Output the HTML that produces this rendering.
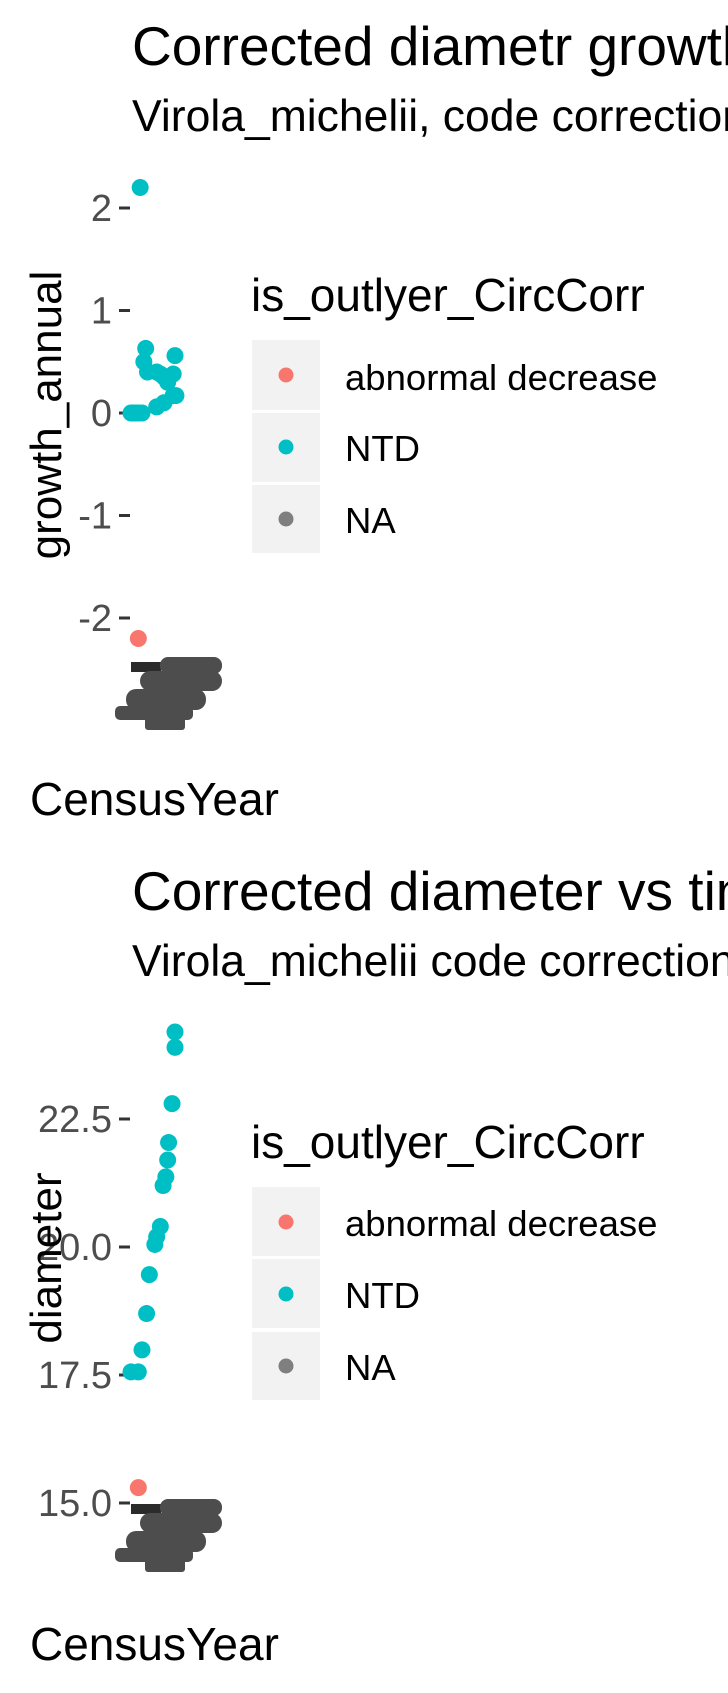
<!DOCTYPE html>
<html><head><meta charset="utf-8">
<style>
html,body{margin:0;padding:0;background:#fff;}
svg{display:block;font-family:"Liberation Sans",Arial,sans-serif;}
</style></head>
<body>
<svg width="728" height="1693" viewBox="0 0 728 1693" xmlns="http://www.w3.org/2000/svg">
<g id="p1">
  <text x="132" y="65" font-size="55" fill="#000">Corrected diametr growth vs time</text>
  <text x="132" y="131" font-size="44.5" fill="#000">Virola_michelii, code correction</text>
  <g id="yaxis1"></g>
  <text transform="translate(61,415) rotate(-90)" text-anchor="middle" font-size="44" fill="#000">growth_annual</text>
  <g id="pts1"></g>
  <g fill="#4d4d4d">
    <rect x="131" y="662" width="30" height="10" fill="#2b2b2b"/>
    <rect x="160" y="657" width="62" height="17" rx="8"/>
    <rect x="140" y="671" width="82" height="20" rx="10"/>
    <rect x="126" y="689" width="80" height="21" rx="10"/>
    <rect x="115" y="706" width="78" height="14" rx="5"/>
    <rect x="145" y="715" width="40" height="15" rx="3"/>
  </g>
  <text x="30" y="815" font-size="46" fill="#000">CensusYear</text>
  <g>
    <text x="251" y="311" font-size="46" fill="#000">is_outlyer_CircCorr</text>
    <rect x="252" y="340" width="68" height="70" fill="#f2f2f2"/>
    <circle cx="286" cy="375" r="7.5" fill="#f8766d"/>
    <text x="345" y="390" font-size="36.5" fill="#000">abnormal decrease</text>
    <rect x="252" y="413" width="68" height="69" fill="#f2f2f2"/>
    <circle cx="286" cy="447" r="7.5" fill="#00bfc4"/>
    <text x="345" y="461" font-size="36.5" fill="#000">NTD</text>
    <rect x="252" y="485" width="68" height="68" fill="#f2f2f2"/>
    <circle cx="286" cy="519" r="7.5" fill="#7f7f7f"/>
    <text x="345" y="533" font-size="36.5" fill="#000">NA</text>
  </g>
</g>
<g id="p2">
  <text x="132" y="910" font-size="55" fill="#000">Corrected diameter vs time</text>
  <text x="132" y="976" font-size="44.5" fill="#000">Virola_michelii code correction</text>
  <g id="yaxis2"></g>
  <text transform="translate(61,1258) rotate(-90)" text-anchor="middle" font-size="44" fill="#000">diameter</text>
  <g id="pts2"></g>
  <g fill="#4d4d4d" transform="translate(0,842)">
    <rect x="131" y="662" width="30" height="10" fill="#2b2b2b"/>
    <rect x="160" y="657" width="62" height="17" rx="8"/>
    <rect x="140" y="671" width="82" height="20" rx="10"/>
    <rect x="126" y="689" width="80" height="21" rx="10"/>
    <rect x="115" y="706" width="78" height="14" rx="5"/>
    <rect x="145" y="715" width="40" height="15" rx="3"/>
  </g>
  <text x="30" y="1660" font-size="46" fill="#000">CensusYear</text>
  <g>
    <text x="251" y="1158" font-size="46" fill="#000">is_outlyer_CircCorr</text>
    <rect x="252" y="1187" width="68" height="69" fill="#f2f2f2"/>
    <circle cx="286" cy="1222" r="7.5" fill="#f8766d"/>
    <text x="345" y="1236" font-size="36.5" fill="#000">abnormal decrease</text>
    <rect x="252" y="1259" width="68" height="69" fill="#f2f2f2"/>
    <circle cx="286" cy="1294" r="7.5" fill="#00bfc4"/>
    <text x="345" y="1308" font-size="36.5" fill="#000">NTD</text>
    <rect x="252" y="1332" width="68" height="68" fill="#f2f2f2"/>
    <circle cx="286" cy="1366" r="7.5" fill="#7f7f7f"/>
    <text x="345" y="1380" font-size="36.5" fill="#000">NA</text>
  </g>
</g>
</svg>
<script>
const NS="http://www.w3.org/2000/svg";
const growthTicks=[2,1,0,-1,-2];
const growthTickLabels=["2","1","0","-1","-2"];
const growthYears=[1997,2000,1999,2001,2006,2016,2015,2008,2010,2012,1992,1993,1994,1995,1996,1998,2006,2010,2015,2016.5];
const growthValues=[2.2,0.63,0.5,0.4,0.4,0.56,0.38,0.38,0.35,0.3,0,0,0,0,0,0,0.06,0.1,0.17,0.17];
const growthOutYears=[1996];
const growthOutValues=[-2.2];
const diamTicks=[22.5,20.0,17.5,15.0];
const diamTickLabels=["22.5","20.0","17.5","15.0"];
const diamYears=[2016,2016,2014.4,2012.5,2012,2011,2009.5,2008,2006,2005,2002,2000.5,1998,1996,1992];
const diamValues=[24.2,23.9,22.8,22.04,21.7,21.37,21.2,20.4,20.2,20.05,19.46,18.7,17.99,17.56,17.56];
const diamOutYears=[1996];
const diamOutValues=[15.3];

const xs=y=>131+(y-1992)/24*44;
const ys1=v=>413-v*102.5;
const ys2=v=>1119-(v-22.5)*51.2;

function axis(gid,ticks,labels,sc,nm){
  const g=document.getElementById(gid);
  ticks.forEach((t,i)=>{
    const y=sc(t);
    const l=document.createElementNS(NS,"line");
    
    
    l.setAttribute("x1",119);l.setAttribute("x2",130);l.setAttribute("y1",y);l.setAttribute("y2",y);
    l.setAttribute("stroke","#333");l.setAttribute("stroke-width","3");
    g.appendChild(l);
    const tx=document.createElementNS(NS,"text");
    
    
    tx.setAttribute("x",112);tx.setAttribute("y",y+13);tx.setAttribute("text-anchor","end");
    tx.setAttribute("font-size","38");tx.setAttribute("fill","#4d4d4d");
    tx.textContent=labels[i];g.appendChild(tx);
  });
}
function pts(gid,years,vals,sc,col,nm){
  const g=document.getElementById(gid);
  years.forEach((yr,i)=>{
    const c=document.createElementNS(NS,"circle");
    
    
    c.setAttribute("cx",xs(yr));c.setAttribute("cy",sc(vals[i]));c.setAttribute("r",8.5);c.setAttribute("fill",col);
    g.appendChild(c);
  });
}
axis("yaxis1",growthTicks,growthTickLabels,ys1,"y-axis");
axis("yaxis2",diamTicks,diamTickLabels,ys2,"y-axis-2");
pts("pts1",growthYears,growthValues,ys1,"#00bfc4","point-ntd");
pts("pts1",growthOutYears,growthOutValues,ys1,"#f8766d","point-abnormal");
pts("pts2",diamYears,diamValues,ys2,"#00bfc4","point-ntd");
pts("pts2",diamOutYears,diamOutValues,ys2,"#f8766d","point-abnormal");
</script>
</body></html>
